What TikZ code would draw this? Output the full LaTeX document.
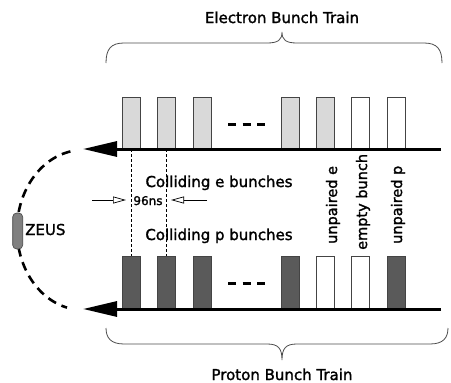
\documentclass[tikz,border=0pt]{standalone}
\usepackage{fontspec}
\setmainfont[FakeBold=1.6]{DejaVu Sans}
\usetikzlibrary{arrows.meta}
\definecolor{lightb}{HTML}{D9D9D9}
\definecolor{darkb}{HTML}{5A5A5A}
\definecolor{edgeb}{HTML}{444444}
\definecolor{zeusc}{HTML}{808080}
\begin{document}
\begin{tikzpicture}[x=1pt,y=-1pt,
  bunch/.style={draw=edgeb, line width=0.7pt, minimum width=18pt, inner sep=0pt, outer sep=0pt},
  ebunch/.style={bunch, fill=lightb, minimum height=52pt},
  pbunch/.style={bunch, fill=darkb, minimum height=53pt},
  ewhite/.style={bunch, fill=white, minimum height=52pt},
  pwhite/.style={bunch, fill=white, minimum height=53pt},
  beamline/.style={line width=3pt, -{Triangle[length=34pt,width=15pt]}},
  vdash/.style={line width=0.6pt, dash pattern=on 3pt off 2pt},
  dots/.style={line width=3pt, dash pattern=on 8pt off 6.5pt},
  tarrow/.style={line width=0.7pt, -{Triangle[open,length=13pt,width=7pt]}},
  brace/.style={line width=0.8pt, draw=black!70},
  lbl/.style={font=\fontsize{15}{18}\selectfont, inner sep=0pt},
  rlbl/.style={font=\fontsize{14.5}{17}\selectfont, inner sep=0pt, rotate=90, anchor=base west},
  arcdash/.style={line width=2.6pt, dash pattern=on 9pt off 6pt},
  zeusbox/.style={draw=edgeb, fill=zeusc, line width=0.6pt, rounded corners=4pt, minimum width=10pt, minimum height=36pt, inner sep=0pt}
]
\useasboundingbox (0,0) rectangle (451,383);

% electron bunches
\node[ebunch] (e1) at (131,123) {};
\node[ebunch] (e2) at (166.5,123) {};
\node[ebunch] (e3) at (202,123) {};
\node[ebunch] (e4) at (290.5,123) {};
\node[ebunch] (e5) at (325.5,123) {};
\node[ewhite] (e6) at (360.5,123) {};
\node[ewhite] (e7) at (396,123) {};
% proton bunches
\node[pbunch] (p1) at (131,282.5) {};
\node[pbunch] (p2) at (166.5,282.5) {};
\node[pbunch] (p3) at (202,282.5) {};
\node[pbunch] (p4) at (290.5,282.5) {};
\node[pwhite] (p5) at (325.5,282.5) {};
\node[pwhite] (p6) at (360.5,282.5) {};
\node[pbunch] (p7) at (396,282.5) {};

% dots
\coordinate (d1) at (228,124);
\coordinate (d2) at (265,124);
\coordinate (d3) at (228,283);
\coordinate (d4) at (265,283);
\draw[dots] (d1) -- (d2);
\draw[dots] (d3) -- (d4);

% beam lines
\coordinate (eR) at (441,149);
\coordinate (eL) at (83,149);
\coordinate (pR) at (441,309);
\coordinate (pL) at (83,309);
\draw[beamline] (eR) -- (eL);
\draw[beamline] (pR) -- (pL);

% vertical dashed
\draw[vdash] (e1.south) -- (p1.north);
\draw[vdash] (e2.south) -- (p2.north);

% 96ns
\coordinate (a1) at (92,200);
\coordinate (a2) at (126,200);
\coordinate (b1) at (207,200);
\coordinate (b2) at (171,200);
\draw[tarrow] (a1) -- (a2);
\draw[tarrow] (b1) -- (b2);
\node[font=\fontsize{12}{14}\selectfont, inner sep=0pt, anchor=base] (ns) at (148,205) {96ns};

% labels
\node[lbl, anchor=base] (ce) at (219,187) {Colliding e bunches};
\node[lbl, anchor=base] (cp) at (219,240) {Colliding p bunches};
\node[rlbl] (ue) at (337,244) {unpaired e};
\node[rlbl] (eb) at (367,250) {empty bunch};
\node[rlbl] (up) at (402,244) {unpaired p};

% braces
\draw[brace] (106,63) .. controls (106,49) and (111,43) .. (124,43) -- (267,43)
  .. controls (278,43) and (282,40) .. (282,32)
  .. controls (282,40) and (286,43) .. (297,43) -- (424,43)
  .. controls (437,43) and (442,49) .. (442,63);
\node[lbl, anchor=base] (etrain) at (282,23) {Electron Bunch Train};

\draw[brace] (106,328) .. controls (106,338) and (111,344) .. (124,344) -- (267,344)
  .. controls (278,344) and (282,348) .. (282,360)
  .. controls (282,348) and (286,344) .. (297,344) -- (430,344)
  .. controls (443,344) and (448,338) .. (448,328);
\node[lbl, anchor=base] (ptrain) at (282,380) {Proton Bunch Train};

% ring arc and ZEUS
\draw[arcdash] plot[domain=11:166, samples=80, smooth] ({83-66*sin(\x)},{230-80*cos(\x)});
\node[zeusbox] (zeus) at (17.7,231) {};
\node[lbl, anchor=base west] (zt) at (25,235) {ZEUS};
\end{tikzpicture}
\end{document}
